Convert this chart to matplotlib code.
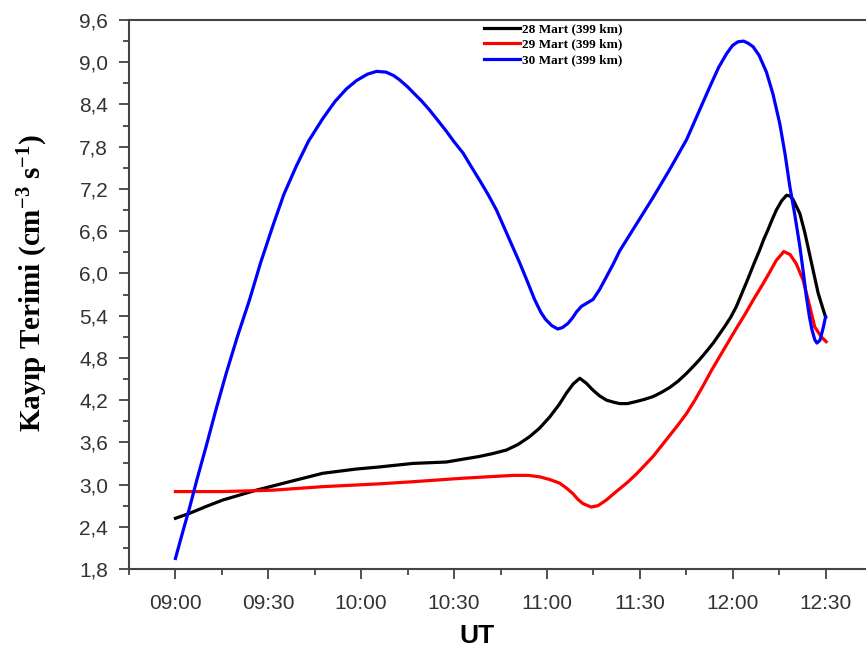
import matplotlib
matplotlib.use('Agg')
import matplotlib.pyplot as plt
from matplotlib.ticker import MultipleLocator, FuncFormatter

# minutes after 09:00 UT
t_28 = [0, 4.5, 10, 15.3, 20.7, 26.1, 31.5, 36.8, 42.2, 47.6, 53, 58.4, 65.9, 76.7,
        87.5, 98.3, 102.5, 106.9, 110.7, 114.4, 117.6, 120.9, 124, 126.3, 128.5,
        130.6, 132.7, 134.9, 137, 139.2, 141.5, 143.5, 146, 148.9, 151.5, 154.3, 157,
        159.7, 162.4, 165.1, 167.3, 169.4, 171.5, 173.7, 175.6, 177.5, 179.4, 181.2,
        183, 184.9, 186.8, 188.7, 190, 191.4, 192.8, 194.1, 195.8, 197.4, 198.5,
        199.5, 200.6, 201.7, 203.3, 204.9, 206.3, 207.6, 209, 210.0]
v_28 = [2.52, 2.59, 2.69, 2.78, 2.85, 2.92, 2.98, 3.04, 3.10, 3.16, 3.19, 3.22, 3.25,
        3.30, 3.32, 3.40, 3.44, 3.49, 3.57, 3.68, 3.80, 3.96, 4.14, 4.30, 4.43,
        4.51, 4.44, 4.34, 4.26, 4.20, 4.17, 4.15, 4.15, 4.18, 4.21, 4.25, 4.31,
        4.38, 4.47, 4.58, 4.68, 4.78, 4.89, 5.01, 5.13, 5.25, 5.38, 5.53,
        5.72, 5.92, 6.13, 6.33, 6.48, 6.62, 6.77, 6.90, 7.03, 7.11, 7.10,
        7.05, 6.95, 6.85, 6.58, 6.26, 5.98, 5.72, 5.52, 5.38]

t_29 = [0, 15.3, 31.5, 47.6, 65.9, 76.7, 92.9, 109, 114, 117.6, 121, 124.1, 126.3,
        128.4, 130, 131.6, 134.3, 136.5, 139.2, 141.3, 143.5, 146, 148.9, 151.5,
        154.3, 157, 159.7, 162.4, 165.1, 167.8, 170.4, 173, 175.8, 178.5, 181.2, 184,
        186.6, 189.5, 192, 194, 196.5, 198.5, 200.5, 202.7, 204.9, 206.5, 208.6, 210.2]
v_29 = [2.90, 2.90, 2.92, 2.97, 3.01, 3.04, 3.09, 3.13, 3.13, 3.11, 3.07, 3.02, 2.95,
        2.87, 2.79, 2.73, 2.68, 2.70, 2.78, 2.86, 2.94, 3.03, 3.15, 3.27,
        3.40, 3.55, 3.70, 3.85, 4.01, 4.20, 4.40, 4.61, 4.82, 5.02, 5.22, 5.42,
        5.62, 5.83, 6.02, 6.18, 6.31, 6.27, 6.14, 5.91, 5.53, 5.24, 5.10, 5.03]

t_30 = [0, 2.5, 4.5, 7, 9.9, 13, 16.4, 20, 23.9, 27.5, 31.5, 35, 39, 43, 47.6, 51.5,
        55.2, 58.5, 62, 65, 68, 70.5, 72.4, 75, 77, 79.5, 82.1, 85, 87.5, 90, 92.9,
        95.5, 98.3, 101, 103.7, 106, 108, 111.2, 114, 116, 118, 119.5, 121.5, 123.5,
        125, 126.8, 128.3, 129.5, 131.1, 133, 134.9, 137, 139.2, 141.5, 143.5, 148.9,
        154.3, 159.7, 165.1, 168.9, 172.6, 175.5, 178.0, 180, 181.7, 183.5, 185,
        186.6, 188.5, 190.9, 193, 195.2, 196.9, 198.4, 200, 201.7, 202.8, 203.8,
        204.8, 205.6, 206.5, 207.2, 208.2, 209.2, 210.0]
v_30 = [1.95, 2.35, 2.66, 3.08, 3.54, 4.05, 4.58, 5.10, 5.62, 6.15, 6.68, 7.12, 7.52,
        7.88, 8.20, 8.44, 8.62, 8.74, 8.83, 8.87, 8.86, 8.81, 8.75, 8.65, 8.56, 8.45,
        8.32, 8.16, 8.02, 7.87, 7.71, 7.52, 7.32, 7.12, 6.90, 6.67, 6.47, 6.15, 5.85,
        5.63, 5.45, 5.35, 5.26, 5.21, 5.23, 5.29, 5.37, 5.45, 5.53, 5.58, 5.63, 5.77,
        5.95, 6.14, 6.32, 6.70, 7.08, 7.48, 7.90, 8.28, 8.65, 8.93, 9.12, 9.24, 9.29,
        9.30, 9.27, 9.22, 9.10, 8.86, 8.55, 8.13, 7.70, 7.25, 6.85, 6.38, 6.02, 5.67,
        5.38, 5.20, 5.06, 5.01, 5.05, 5.22, 5.38]

labels = ['28 Mart (399 km)', '29 Mart (399 km)', '30 Mart (399 km)']
colors = ['black', '#ff0000', '#0000ff']

plt.rcParams['mathtext.fontset'] = 'custom'
plt.rcParams['mathtext.rm'] = 'Liberation Serif:bold'
plt.rcParams['mathtext.default'] = 'rm'


def hhmm(x, pos):
    m = int(round(x)) + 9 * 60
    return '%02d:%02d' % (m // 60, m % 60)


def comma(y, pos):
    return ('%.1f' % y).replace('.', ',')


fig = plt.figure(figsize=(8.66, 6.52), dpi=100)
ax = fig.add_axes([129 / 866, 83 / 652, 743 / 866, 549 / 652])

for t, v, c, lab in zip([t_28, t_29, t_30], [v_28, v_29, v_30], colors, labels):
    ax.plot(t, v, color=c, lw=2.3, label=lab, solid_joinstyle='round')

ax.set_xlim(-15, 225)
ax.set_ylim(1.8, 9.6)
ax.xaxis.set_major_locator(MultipleLocator(30))
ax.xaxis.set_minor_locator(MultipleLocator(15))
ax.yaxis.set_major_locator(MultipleLocator(0.6))
ax.yaxis.set_minor_locator(MultipleLocator(0.3))
ax.xaxis.set_major_formatter(FuncFormatter(hhmm))
ax.yaxis.set_major_formatter(FuncFormatter(comma))
ax.tick_params(which='major', direction='out', length=7, width=1.2,
               labelsize=15, colors='#333333', pad=8)
ax.tick_params(axis='x', which='major', pad=11)
ax.tick_params(which='minor', direction='out', length=4, width=1.2, colors='#333333')
for lab in ax.get_xticklabels() + ax.get_yticklabels():
    lab.set_family('Liberation Sans')
for s in ax.spines.values():
    s.set_linewidth(1.5)
    s.set_color('#444444')

ax.set_xlabel('UT', fontsize=19, fontweight='bold', family='Liberation Sans')
ax.xaxis.set_label_coords(0.468, -0.1)
ax.set_ylabel('Kayıp Terimi (cm$^{-3}$ s$^{-1}$)', fontsize=21, fontweight='bold',
              family='Liberation Serif')
ax.yaxis.set_label_coords(-0.106, 0.52)

leg = ax.legend(loc='upper left', bbox_to_anchor=(484 / 866, 1 - 23 / 652),
                bbox_transform=fig.transFigure, frameon=False, borderpad=0,
                borderaxespad=0, handlelength=2.7, handletextpad=0.15,
                labelspacing=0.25, prop={'family': 'Liberation Serif',
                                         'size': 9.5, 'weight': 'bold'})

plt.savefig('out.png', dpi=100)
